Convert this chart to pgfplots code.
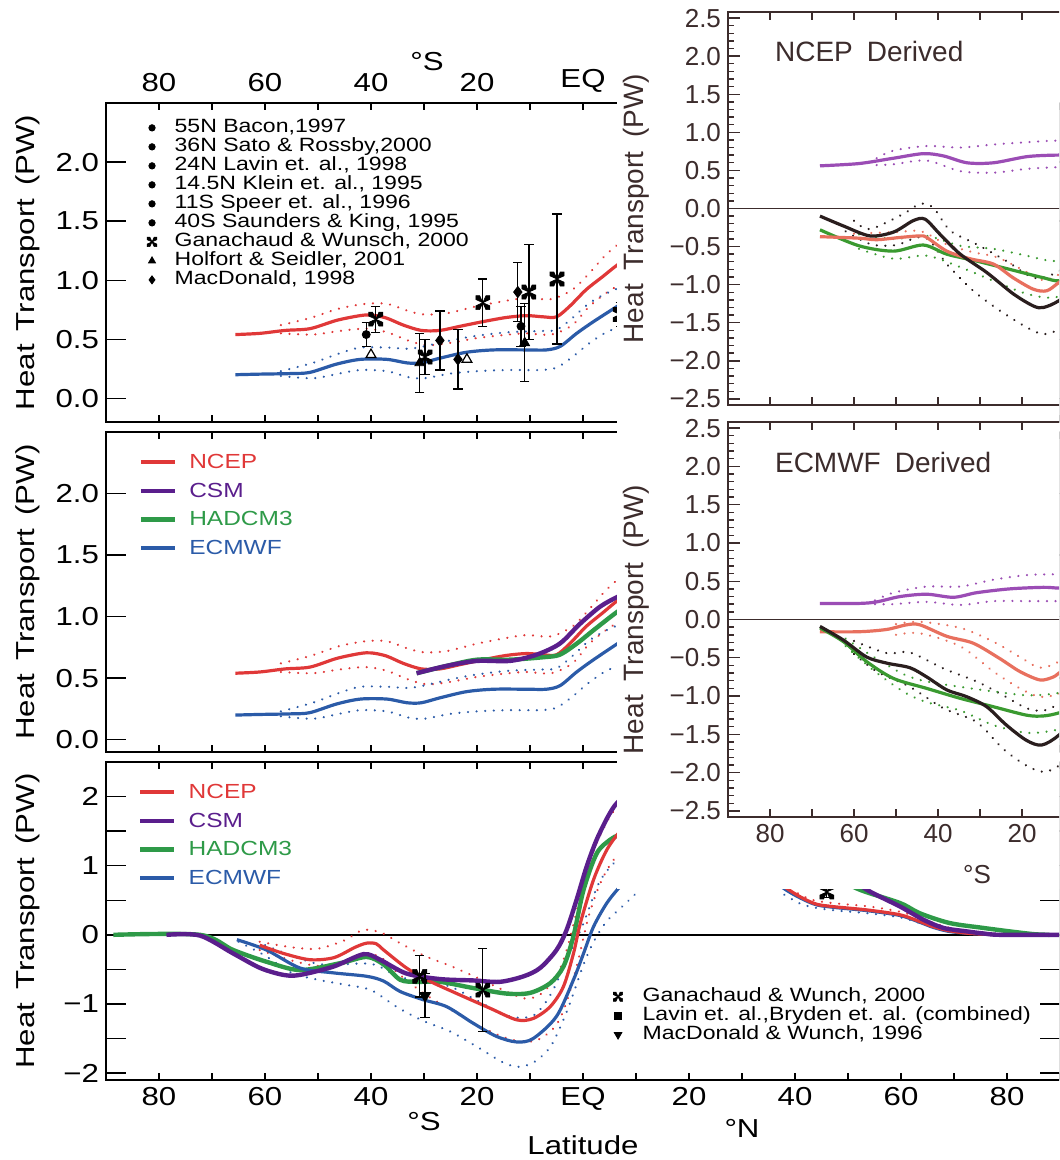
\documentclass[border=0pt]{standalone}
\usepackage{fontspec}
\setmainfont{Liberation Sans}
\newfontfamily\widefont{Liberation Sans}[FakeStretch=1.2]
\usepackage{pgfplots}
\pgfplotsset{compat=1.18}

\definecolor{ncep}{HTML}{E03838}
\definecolor{csm}{HTML}{5A1E8C}
\definecolor{had}{HTML}{2E9A48}
\definecolor{ecm}{HTML}{2B5BA8}
\definecolor{rpurple}{HTML}{9B4DB5}
\definecolor{rsalmon}{HTML}{E8705E}
\definecolor{rblack}{HTML}{2A1E1E}
\definecolor{rgreen}{HTML}{3A9A30}
\definecolor{rbrown}{HTML}{3C2C2C}

\pgfdeclareplotmark{gx}{%
  \pgfpathmoveto{\pgfpoint{0pt}{0pt}}%
  \pgfpathlineto{\pgfpoint{\pgfplotmarksize}{0.45\pgfplotmarksize}}%
  \pgfpathlineto{\pgfpoint{\pgfplotmarksize}{\pgfplotmarksize}}%
  \pgfpathlineto{\pgfpoint{0.45\pgfplotmarksize}{\pgfplotmarksize}}%
  \pgfpathclose
  \pgfpathmoveto{\pgfpoint{0pt}{0pt}}%
  \pgfpathlineto{\pgfpoint{-0.45\pgfplotmarksize}{\pgfplotmarksize}}%
  \pgfpathlineto{\pgfpoint{-\pgfplotmarksize}{\pgfplotmarksize}}%
  \pgfpathlineto{\pgfpoint{-\pgfplotmarksize}{0.45\pgfplotmarksize}}%
  \pgfpathclose
  \pgfpathmoveto{\pgfpoint{0pt}{0pt}}%
  \pgfpathlineto{\pgfpoint{-\pgfplotmarksize}{-0.45\pgfplotmarksize}}%
  \pgfpathlineto{\pgfpoint{-\pgfplotmarksize}{-\pgfplotmarksize}}%
  \pgfpathlineto{\pgfpoint{-0.45\pgfplotmarksize}{-\pgfplotmarksize}}%
  \pgfpathclose
  \pgfpathmoveto{\pgfpoint{0pt}{0pt}}%
  \pgfpathlineto{\pgfpoint{0.45\pgfplotmarksize}{-\pgfplotmarksize}}%
  \pgfpathlineto{\pgfpoint{\pgfplotmarksize}{-\pgfplotmarksize}}%
  \pgfpathlineto{\pgfpoint{\pgfplotmarksize}{-0.45\pgfplotmarksize}}%
  \pgfpathclose
  \pgfusepathqfillstroke}

\pgfplotsset{
  base/.style={scale only axis, anchor=south west, xmin=-90, xmax=90,
    axis line style={line width=0.8pt},
    tick style={line width=0.7pt, black},
    major tick length=10pt,
    xtick style={/pgfplots/major tick length=3.5pt},
    xtick={-90,-80,...,90},
    tick label style={font=\widefont\fontsize{13}{15}\selectfont},
    ylabel style={font=\widefont\fontsize{13}{15}\selectfont},
    legend cell align=left},
  sol/.style={line width=1.6pt, smooth, tension=0.5},
  dot/.style={line width=1.2pt, dash pattern=on 0.01pt off 4.3pt, line cap=round, smooth, tension=0.5},
  errb/.style={black, only marks,
    error bars/y dir=both, error bars/y explicit,
    error bars/error bar style={line width=0.6pt, black},
    error bars/error mark options={rotate=90, mark size=2.3pt, line width=0.6pt, black}},
  rax/.style={scale only axis, anchor=south west, xmin=-90, xmax=0, width=189pt,
    ymin=-2.58, ymax=2.58,
    axis line style={line width=0.8pt, draw=rbrown},
    tick style={line width=0.7pt, rbrown},
    major tick length=6pt, minor tick length=3pt,
    xtick style={/pgfplots/major tick length=4pt},
    xtick={-90,-80,...,0},
    ytick={-2.5,-2,...,2.5}, minor y tick num=4,
    yticklabels={−2.5,−2.0,−1.5,−1.0,−0.5,0.0,0.5,1.0,1.5,2.0,2.5},
    tick label style={font=\fontsize{13}{15}\selectfont, text=rbrown},
    ylabel={Heat\enspace Transport\enspace (PW)},
    ylabel style={font=\fontsize{14}{16}\selectfont, text=rbrown, at={(axis description cs:-0.242,0.5)}, anchor=center}},
  modleg/.style={legend style={at={(axis description cs:#1,0.955)}, anchor=north west, draw=none, fill=none,
    font=\widefont\fontsize{10.2}{11}\selectfont, nodes={inner sep=0pt, text height=9pt, text depth=2.5pt},
    row sep=2.8pt, column sep=6pt}},
}

\begin{document}
\begin{tikzpicture}
\useasboundingbox (0,0) rectangle (529.5pt,580pt);
\clip (0,0) rectangle (529.5pt,580pt);

% ---------------- Panel A ----------------
\begin{axis}[base, at={(53pt,369pt)}, width=477pt, height=159.5pt,
  ymin=-0.2, ymax=2.5,
  xticklabels={,80,,60,,40,,20,,EQ,,,,,,,,,}, xticklabel pos=right,
  xticklabel style={yshift=2pt},
  ytick={0,0.5,1,1.5,2}, yticklabels={0.0,0.5,1.0,1.5,2.0},
  ylabel={Heat\enspace Transport\enspace (PW)},
  ylabel style={at={(axis description cs:-0.082,0.5)}, anchor=center},
  legend image code/.code={\path (0cm,0cm) (0.5cm,0cm); \draw[#1] plot coordinates {(0.25cm,0cm)};},
  legend style={at={(axis description cs:0.0262,0.964)}, anchor=north west, draw=none, fill=none,
    font=\widefont\fontsize{9.6}{10}\selectfont, nodes={inner sep=0pt, text height=7pt, text depth=2pt},
    row sep=0.5pt, column sep=4pt}]
\addlegendimage{only marks, mark=*, mark size=1.6pt, black}
\addlegendentry{55N Bacon,1997}
\addlegendimage{only marks, mark=*, mark size=1.6pt, black}
\addlegendentry{36N Sato \& Rossby,2000}
\addlegendimage{only marks, mark=*, mark size=1.6pt, black}
\addlegendentry{24N Lavin et. al., 1998}
\addlegendimage{only marks, mark=*, mark size=1.6pt, black}
\addlegendentry{14.5N Klein et. al., 1995}
\addlegendimage{only marks, mark=*, mark size=1.6pt, black}
\addlegendentry{11S Speer et. al., 1996}
\addlegendimage{only marks, mark=*, mark size=1.6pt, black}
\addlegendentry{40S Saunders \& King, 1995}
\addlegendimage{only marks, mark=gx, mark size=2.4pt, black, mark options={fill=black, line width=0.3pt}}
\addlegendentry{Ganachaud \& Wunsch, 2000}
\addlegendimage{only marks, mark=triangle*, mark size=2pt, black}
\addlegendentry{Holfort \& Seidler, 2001}
\addlegendimage{only marks, mark=diamond*, mark size=2pt, black}
\addlegendentry{MacDonald, 1998}

\addplot[dot, ncep, forget plot] coordinates {(-57,0.62) (-51.5,0.68) (-46,0.76) (-41,0.80) (-37,0.80) (-33,0.74) (-30,0.71) (-25.7,0.72) (-20,0.78) (-14,0.83) (-10.6,0.85) (-6,0.84) (-2,0.92) (1,1.05) (4,1.2) (6.5,1.3) (9,1.38)};
\addplot[dot, ncep, forget plot] coordinates {(-57,0.55) (-51,0.54) (-46,0.57) (-41,0.59) (-37,0.56) (-33,0.49) (-29.5,0.45) (-25,0.47) (-20,0.51) (-14,0.54) (-10.6,0.55) (-6,0.54) (-2,0.62) (1,0.77) (4,0.88) (6.5,0.95) (9,1.0)};
\addplot[dot, ecm, forget plot] coordinates {(-57,0.23) (-51,0.30) (-46,0.38) (-42,0.43) (-37,0.43) (-33,0.42) (-30,0.44) (-25,0.49) (-20,0.53) (-14,0.56) (-8,0.57) (-5,0.58) (-2,0.68) (1,0.80) (4,0.88) (6.5,0.93) (9,1.0)};
\addplot[dot, ecm, forget plot] coordinates {(-57,0.19) (-51,0.17) (-46,0.21) (-42,0.24) (-37,0.23) (-33,0.18) (-30,0.17) (-25,0.21) (-20,0.23) (-14,0.24) (-8,0.24) (-5,0.26) (-2,0.35) (1,0.46) (4,0.55) (6.5,0.6) (9,0.65)};
\addplot[sol, ncep, forget plot] coordinates {(-65.6,0.54) (-61,0.55) (-56.2,0.575) (-51.5,0.59) (-46.5,0.66) (-42.1,0.70) (-39.9,0.705) (-37.1,0.68) (-33.9,0.62) (-30.5,0.575) (-27,0.575) (-23.2,0.61) (-18.8,0.65) (-14.4,0.685) (-10.6,0.70) (-7.5,0.69) (-5,0.69) (-2.5,0.78) (0.6,0.92) (3.7,1.03) (6.5,1.13) (9,1.2)};
\addplot[sol, ecm, forget plot] coordinates {(-65.6,0.20) (-61,0.205) (-55,0.21) (-51.5,0.22) (-46.5,0.29) (-42,0.33) (-37,0.33) (-33.2,0.30) (-30.5,0.30) (-27,0.34) (-22,0.39) (-16.9,0.41) (-10.6,0.41) (-6.9,0.41) (-4.3,0.44) (-1.2,0.55) (2,0.65) (6.5,0.78) (9,0.85)};
% observations
\addplot[errb, mark=*, mark size=2pt, forget plot] coordinates {(-40.9,0.54) +- (0,0.10) (-11.7,0.61) +- (0,0.17)};
\addplot[errb, mark=diamond*, mark size=2.8pt, forget plot] coordinates {(-27,0.49) +- (0,0.25) (-23.6,0.33) +- (0,0.25) (-12.3,0.90) +- (0,0.25)};
\addplot[errb, mark=gx, mark size=3.5pt, mark options={fill=black, line width=0.3pt}, forget plot] coordinates {(-39.1,0.67) +- (0,0.11) (-29.8,0.35) +- (0,0.15) (-18.9,0.81) +- (0,0.20) (-10.2,0.90) +- (0,0.40) (-4.9,1.01) +- (0,0.55) (7,0.71) +- (0,0.10)};
\addplot[errb, mark=triangle*, mark size=2.8pt, forget plot] coordinates {(-30.8,0.30) +- (0,0.25) (-11,0.47) +- (0,0.33)};
\addplot[black, only marks, mark=triangle, mark size=2.8pt, mark options={line width=0.6pt}, forget plot] coordinates {(-40,0.37) (-21.9,0.33)};
\end{axis}

% ---------------- Panel B ----------------
\begin{axis}[base, at={(53pt,204pt)}, width=477pt, height=160pt,
  ymin=-0.1, ymax=2.5, xticklabels={},
  ytick={0,0.5,1,1.5,2}, yticklabels={0.0,0.5,1.0,1.5,2.0},
  ylabel={Heat\enspace Transport\enspace (PW)},
  ylabel style={at={(axis description cs:-0.082,0.5)}, anchor=center},
  modleg=0.0276]
\addlegendimage{ncep, line width=2.2pt}\addlegendentry{\textcolor{ncep}{NCEP}}
\addlegendimage{csm, line width=2.2pt}\addlegendentry{\textcolor{csm}{CSM}}
\addlegendimage{had, line width=2.2pt}\addlegendentry{\textcolor{had}{HADCM3}}
\addlegendimage{ecm, line width=2.2pt}\addlegendentry{\textcolor{ecm}{ECMWF}}
\addplot[dot, ncep, forget plot] coordinates {(-57,0.62) (-51.5,0.68) (-46,0.76) (-41,0.80) (-37,0.80) (-33,0.74) (-30,0.71) (-25.7,0.72) (-20,0.78) (-14,0.83) (-10.6,0.85) (-6,0.84) (-2,0.92) (1,1.05) (4,1.2) (6.5,1.3) (9,1.38)};
\addplot[dot, ncep, forget plot] coordinates {(-57,0.55) (-51,0.54) (-46,0.57) (-41,0.59) (-37,0.56) (-33,0.49) (-29.5,0.45) (-25,0.47) (-20,0.51) (-14,0.54) (-10.6,0.55) (-6,0.54) (-2,0.62) (1,0.77) (4,0.88) (6.5,0.95) (9,1.0)};
\addplot[dot, ecm, forget plot] coordinates {(-57,0.23) (-51,0.30) (-46,0.38) (-42,0.43) (-37,0.43) (-33,0.42) (-30,0.44) (-25,0.49) (-20,0.53) (-14,0.56) (-8,0.57) (-5,0.58) (-2,0.68) (1,0.80) (4,0.88) (6.5,0.93) (9,1.0)};
\addplot[dot, ecm, forget plot] coordinates {(-57,0.19) (-51,0.17) (-46,0.21) (-42,0.24) (-37,0.23) (-33,0.18) (-30,0.17) (-25,0.21) (-20,0.23) (-14,0.24) (-8,0.24) (-5,0.26) (-2,0.35) (1,0.46) (4,0.55) (6.5,0.6) (9,0.65)};
\addplot[sol, ncep, forget plot] coordinates {(-65.6,0.54) (-61,0.55) (-56.2,0.575) (-51.5,0.59) (-46.5,0.66) (-42.1,0.70) (-39.9,0.705) (-37.1,0.68) (-33.9,0.62) (-30.5,0.575) (-27,0.575) (-23.2,0.61) (-18.8,0.65) (-14.4,0.685) (-10.6,0.70) (-7.5,0.69) (-5,0.69) (-2.5,0.78) (0.6,0.92) (3.7,1.03) (6.5,1.13) (9,1.2)};
\addplot[sol, ecm, forget plot] coordinates {(-65.6,0.20) (-61,0.205) (-55,0.21) (-51.5,0.22) (-46.5,0.29) (-42,0.33) (-37,0.33) (-33.2,0.30) (-30.5,0.30) (-27,0.34) (-22,0.39) (-16.9,0.41) (-10.6,0.41) (-6.9,0.41) (-4.3,0.44) (-1.2,0.55) (2,0.65) (6.5,0.78) (9,0.85)};
\addplot[sol, had, line width=2.2pt, forget plot] coordinates {(-31.4,0.54) (-25.7,0.60) (-20,0.65) (-13.8,0.65) (-7.5,0.67) (-4.4,0.69) (-1.2,0.78) (2,0.89) (6.5,1.04) (9,1.1)};
\addplot[sol, csm, line width=2.2pt, forget plot] coordinates {(-31.4,0.54) (-25.7,0.60) (-20,0.64) (-13.8,0.64) (-8.8,0.69) (-4.4,0.78) (-0.6,0.94) (3.2,1.08) (6.5,1.16) (9,1.2)};
\end{axis}

% ---------------- Panel C ----------------
\begin{axis}[base, at={(53pt,40pt)}, width=477pt, height=159pt,
  ymin=-2.1, ymax=2.5,
  xticklabels={,80,,60,,40,,20,,EQ,,20,,40,,60,,80,},
  ytick={-2,-1.5,-1,-0.5,0,0.5,1,1.5,2}, yticklabels={−2,,−1,,0,,1,,2},
  ylabel={Heat\enspace Transport\enspace (PW)},
  ylabel style={at={(axis description cs:-0.082,0.5)}, anchor=center},
  modleg=0.027]
\addlegendimage{ncep, line width=2.2pt}\addlegendentry{\textcolor{ncep}{NCEP}}
\addlegendimage{csm, line width=2.2pt}\addlegendentry{\textcolor{csm}{CSM}}
\addlegendimage{had, line width=2.2pt}\addlegendentry{\textcolor{had}{HADCM3}}
\addlegendimage{ecm, line width=2.2pt}\addlegendentry{\textcolor{ecm}{ECMWF}}
\addplot[black, line width=0.7pt, forget plot] coordinates {(-90,0) (90,0)};
\addplot[dot, ncep, forget plot] coordinates {(-61,-0.10) (-55,-0.18) (-50,-0.20) (-45,-0.08) (-41.5,0.07) (-38,0.03) (-35,-0.10) (-30,-0.30) (-25,-0.45) (-20,-0.62) (-15,-0.80) (-11,-0.92) (-8,-0.86) (-5,-0.60) (-3,-0.2) (-1,0.4) (1,1.0) (3,1.4) (5,1.7) (7,1.9) (10,2.1)};
\addplot[dot, ncep, forget plot] coordinates {(-61,-0.22) (-55,-0.37) (-50,-0.45) (-45,-0.42) (-41,-0.28) (-38,-0.33) (-35,-0.55) (-30,-0.85) (-25,-1.08) (-20,-1.30) (-15,-1.48) (-11,-1.55) (-8,-1.5) (-5,-1.3) (-3,-0.95) (-1,-0.4) (1,0.25) (3,0.7) (5,1.0) (7,1.2) (10,1.45)};
\addplot[dot, ecm, forget plot] coordinates {(-65,-0.1) (-60,-0.3) (-55,-0.55) (-50,-0.65) (-45,-0.72) (-40,-0.80) (-35,-1.05) (-30,-1.25) (-25,-1.40) (-20,-1.62) (-15,-1.85) (-12,-1.91) (-9,-1.83) (-6,-1.6) (-3,-1.1) (0,-0.45) (2,-0.1) (4.5,0.2) (7,0.38) (10,0.6)};
\addplot[dot, ecm, forget plot] coordinates {(-60,-0.15) (-50,-0.42) (-40,-0.42) (-35,-0.6) (-30,-0.68) (-25,-0.75) (-20,-0.95) (-15,-1.15) (-12,-1.2) (-9,-1.15) (-6,-0.85) (-3,-0.35) (0,0.15) (3,0.75) (6,1.05) (9,1.2)};
\addplot[dot, ncep, forget plot] coordinates {(36,0.74) (40,0.62) (43,0.51) (47,0.46) (54,0.41) (60,0.33) (64,0.23) (67,0.15) (70,0.08)};
\addplot[dot, ecm, forget plot] coordinates {(38,0.58) (41,0.45) (44,0.39) (48,0.35) (54,0.31) (60,0.25) (64,0.16) (67,0.10) (70,0.05)};
\addplot[sol, had, line width=2.2pt, forget plot] coordinates {(-88.6,0) (-72.3,0) (-66,-0.22) (-59.7,-0.39) (-53.4,-0.51) (-45.8,-0.41) (-40.8,-0.32) (-37.6,-0.43) (-34.5,-0.65) (-31.4,-0.68) (-27,-0.68) (-20.7,-0.77) (-14.4,-0.85) (-10,-0.84) (-6.2,-0.70) (-3.7,-0.46) (-1.8,-0.02) (0.1,0.65) (2.6,1.18) (5.2,1.38) (7,1.45) (12,1.6) (25,1.5) (40,1.1) (47,0.85) (52.3,0.65) (59.8,0.46) (63.6,0.31) (69.2,0.17) (75.5,0.10) (80.5,0.05) (85,0.01) (88,0)};
\addplot[sol, ecm, forget plot] coordinates {(-65.3,-0.07) (-59.7,-0.22) (-53.4,-0.48) (-47.1,-0.55) (-40.8,-0.60) (-37.6,-0.67) (-34.5,-0.82) (-30.1,-0.94) (-25.7,-1.04) (-20.7,-1.28) (-16.3,-1.47) (-12.5,-1.55) (-9.4,-1.50) (-5,-1.18) (-1.8,-0.65) (0.1,-0.27) (2,0.12) (4.5,0.46) (7,0.70) (10,0.95) (16,1.3) (24,1.3) (32,1.0) (38.5,0.64) (43.4,0.45) (47,0.40) (53.6,0.35) (59.8,0.28) (63.6,0.18) (66,0.11) (69,0.05) (73,0.02) (79,0)};
\addplot[sol, ncep, forget plot] coordinates {(-61,-0.15) (-56.5,-0.27) (-51.5,-0.36) (-47,-0.33) (-43,-0.18) (-40.8,-0.12) (-39,-0.13) (-37.6,-0.22) (-33.3,-0.48) (-29.5,-0.65) (-23.8,-0.85) (-17.6,-1.06) (-12.5,-1.23) (-9.4,-1.21) (-6.2,-1.04) (-3.7,-0.75) (-1.8,-0.27) (-0.5,0.17) (2,0.80) (4.5,1.23) (7,1.5) (10,1.75) (16,1.9) (24,1.6) (32,1.1) (38.5,0.67) (43.4,0.46) (47,0.41) (53.6,0.36) (59.8,0.29) (63.6,0.19) (66,0.12) (69,0.06) (73,0.02) (79,0)};
\addplot[sol, csm, line width=2.2pt, forget plot] coordinates {(-78.6,0) (-72.3,-0.01) (-66,-0.27) (-60.9,-0.48) (-56.5,-0.58) (-53.4,-0.58) (-47.1,-0.46) (-41.4,-0.28) (-38.3,-0.36) (-33.3,-0.56) (-27,-0.64) (-20.7,-0.66) (-15.7,-0.68) (-11.2,-0.60) (-8.1,-0.48) (-5,-0.22) (-3.1,0.07) (-1.2,0.51) (0.7,0.99) (2.6,1.38) (5,1.75) (7,1.95) (12,2.2) (25,1.9) (40,1.3) (48,0.95) (53.6,0.65) (59.8,0.41) (64.2,0.22) (68,0.10) (72.4,0.05) (75.5,0.02) (78.7,0) (90,0)};
\addplot[errb, mark=gx, mark size=3.5pt, mark options={fill=black, line width=0.3pt}, forget plot] coordinates {(-30.8,-0.60) +- (0,0.30) (-18.9,-0.80) +- (0,0.60) (46,0.62) +- (0,0.08)};
\addplot[errb, mark=triangle*, mark size=3.2pt, mark options={rotate=180}, forget plot] coordinates {(-29.8,-0.88) +- (0,0.32)};
\end{axis}

% second legend of panel C
\begin{axis}[scale only axis, anchor=south west, at={(53pt,40pt)}, width=477pt, height=159pt,
  xmin=-90, xmax=90, ymin=-2.1, ymax=2.5, hide axis, legend cell align=left,
  legend image code/.code={\path (0cm,0cm) (0.5cm,0cm); \draw[#1] plot coordinates {(0.25cm,0cm)};},
  legend style={at={(axis description cs:0.5147,0.304)}, anchor=north west, draw=none, fill=none,
    font=\widefont\fontsize{9.6}{10}\selectfont, nodes={inner sep=0pt, text height=7pt, text depth=2pt},
    row sep=0.5pt, column sep=5pt}]
\addlegendimage{only marks, mark=gx, mark size=2.3pt, black, mark options={fill=black, line width=0.3pt}}
\addlegendentry{Ganachaud \& Wunch, 2000}
\addlegendimage{only marks, mark=square*, mark size=1.9pt, black}
\addlegendentry{Lavin et. al.,Bryden et. al. (combined)}
\addlegendimage{only marks, mark=triangle*, mark size=2.2pt, black, mark options={rotate=180}}
\addlegendentry{MacDonald \& Wunch, 1996}
\end{axis}

% white backing of the right-hand figure
\fill[white] (308.5pt,135.5pt) rectangle (540pt,590pt);

% ---------------- Panel R1 ----------------
\begin{axis}[rax, at={(364pt,377.5pt)}, height=196.5pt, xticklabels={}]
\addplot[rbrown, line width=0.7pt] coordinates {(-90,0) (0,0)};
\addplot[dot, rpurple] coordinates {(-54.6,0.66) (-50.6,0.76) (-42.7,0.82) (-34.7,0.80) (-26.8,0.84) (-18.9,0.87) (-12.5,0.89) (-6,0.89)};
\addplot[dot, rpurple] coordinates {(-54.6,0.57) (-50.6,0.58) (-42.7,0.63) (-34.7,0.49) (-26.8,0.47) (-18.9,0.52) (-12.5,0.54) (-6,0.55)};
\addplot[dot, rblack] coordinates {(-60,-0.16) (-56.2,-0.27) (-48.2,-0.07) (-44.3,0.06) (-41.1,0.01) (-37.1,-0.29) (-30.8,-0.47) (-23.7,-0.69) (-17.3,-0.91) (-12.5,-0.86) (-6,-0.65)};
\addplot[dot, rblack] coordinates {(-62,-0.30) (-56,-0.47) (-50,-0.48) (-45,-0.38) (-42,-0.42) (-37.9,-0.73) (-31.6,-1.08) (-25.3,-1.34) (-18.9,-1.56) (-14.9,-1.65) (-11.2,-1.58) (-6,-1.3)};
\addplot[dot, rgreen] coordinates {(-58.8,-0.34) (-50.6,-0.40) (-42.7,-0.36) (-34.7,-0.49) (-26.8,-0.53) (-18.9,-0.62) (-12.5,-0.69) (-6,-0.62)};
\addplot[dot, rgreen] coordinates {(-58.8,-0.53) (-50.6,-0.66) (-42.7,-0.62) (-34.7,-0.77) (-26.8,-0.95) (-18.9,-1.12) (-12.5,-1.17) (-6,-1.05)};
\addplot[dot, rsalmon] coordinates {(-60,-0.33) (-50,-0.31) (-44,-0.30) (-38,-0.47) (-32,-0.57) (-26,-0.64) (-20,-0.80) (-15,-0.94) (-11,-0.86) (-6,-0.7)};
\addplot[sol, rpurple] coordinates {(-68.1,0.56) (-58.8,0.59) (-50.6,0.66) (-43.5,0.72) (-38.7,0.69) (-33.1,0.60) (-26.8,0.60) (-18.9,0.68) (-12.5,0.70) (-6,0.70)};
\addplot[sol, rgreen] coordinates {(-68.1,-0.28) (-58.8,-0.49) (-50.6,-0.56) (-43.5,-0.48) (-37.9,-0.60) (-30.8,-0.69) (-22.9,-0.80) (-14.9,-0.91) (-11.2,-0.95) (-6,-0.88)};
\addplot[sol, rsalmon] coordinates {(-68.1,-0.37) (-58.8,-0.39) (-54.6,-0.41) (-49,-0.38) (-44.3,-0.36) (-42.7,-0.38) (-37.9,-0.56) (-32.4,-0.66) (-26.8,-0.73) (-22.1,-0.91) (-17.3,-1.06) (-14.1,-1.08) (-11.2,-0.97) (-6,-0.75)};
\addplot[sol, rblack] coordinates {(-68.1,-0.10) (-62.5,-0.23) (-56.2,-0.36) (-50.6,-0.31) (-45.9,-0.16) (-43.1,-0.14) (-39.5,-0.34) (-34.7,-0.60) (-28.4,-0.84) (-22.1,-1.12) (-17.3,-1.28) (-14.9,-1.30) (-11.2,-1.21) (-6,-0.98)};
\end{axis}

% ---------------- Panel R2 ----------------
\begin{axis}[rax, at={(364pt,171.5pt)}, height=197.5pt, xticklabels={,80,,60,,40,,20,,}]
\addplot[rbrown, line width=0.7pt] coordinates {(-90,0) (0,0)};
\addplot[dot, rpurple] coordinates {(-55,0.25) (-50.6,0.35) (-42.7,0.43) (-34.7,0.43) (-26.8,0.52) (-18.9,0.58) (-12.5,0.59) (-6,0.59)};
\addplot[dot, rpurple] coordinates {(-55,0.20) (-50.6,0.20) (-42.7,0.23) (-34.7,0.19) (-26.8,0.24) (-18.9,0.24) (-12.5,0.24) (-6,0.24)};
\addplot[dot, rsalmon] coordinates {(-50,-0.06) (-44.3,-0.03) (-34.7,-0.11) (-26.8,-0.29) (-20.5,-0.49) (-15.7,-0.63) (-11.2,-0.55) (-6,-0.38)};
\addplot[dot, rsalmon] coordinates {(-50,-0.20) (-44.3,-0.18) (-34.7,-0.35) (-26.8,-0.68) (-20.5,-0.90) (-15.7,-1.01) (-11.2,-0.97) (-6,-0.82)};
\addplot[dot, rblack] coordinates {(-60,-0.28) (-52.2,-0.44) (-46.7,-0.43) (-38.7,-0.64) (-30.8,-0.81) (-24.5,-0.99) (-18.9,-1.16) (-14.9,-1.19) (-11.2,-1.10) (-6,-0.9)};
\addplot[dot, rblack] coordinates {(-60,-0.45) (-54.6,-0.68) (-46.7,-0.88) (-38.7,-1.16) (-30.8,-1.34) (-24.5,-1.69) (-18.9,-1.91) (-14.9,-1.99) (-11.2,-1.91) (-6,-1.65)};
\addplot[dot, rgreen] coordinates {(-62,-0.25) (-55,-0.50) (-48,-0.72) (-42.7,-0.81) (-34.7,-0.88) (-26.8,-0.94) (-18.9,-0.99) (-12.5,-0.97) (-6,-0.9)};
\addplot[dot, rgreen] coordinates {(-62,-0.35) (-55,-0.68) (-48,-0.95) (-42.7,-1.08) (-34.7,-1.19) (-26.8,-1.38) (-18.9,-1.48) (-12.5,-1.45) (-6,-1.35)};
\addplot[sol, rpurple] coordinates {(-68.1,0.21) (-58.8,0.21) (-54.6,0.23) (-49,0.30) (-42.7,0.33) (-36.3,0.29) (-30.8,0.35) (-22.9,0.40) (-14.9,0.42) (-11.2,0.41) (-6,0.41)};
\addplot[sol, rsalmon] coordinates {(-68.1,-0.16) (-58.8,-0.16) (-52.2,-0.13) (-47.5,-0.07) (-44.3,-0.07) (-37.9,-0.22) (-31.6,-0.31) (-25.3,-0.51) (-20.5,-0.68) (-15.7,-0.79) (-12.5,-0.75) (-11.2,-0.70) (-6,-0.5)};
\addplot[sol, rgreen] coordinates {(-68.1,-0.11) (-62.5,-0.29) (-57,-0.55) (-50.6,-0.77) (-42.7,-0.90) (-34.7,-1.03) (-26.8,-1.14) (-18.9,-1.25) (-14.9,-1.26) (-11.2,-1.22) (-6,-1.12)};
\addplot[sol, rblack] coordinates {(-68.1,-0.09) (-62.5,-0.27) (-57,-0.49) (-52.2,-0.57) (-46.7,-0.63) (-42.7,-0.75) (-37.9,-0.92) (-33.1,-1.01) (-28.4,-1.14) (-23.7,-1.38) (-18.9,-1.58) (-15.3,-1.64) (-11.2,-1.51) (-6,-1.2)};
\end{axis}

% text labels
\node[font=\widefont\fontsize{13}{15}\selectfont] at (213.5pt,549pt) {°S};
\node[font=\widefont\fontsize{13}{15}\selectfont] at (212pt,19pt) {°S};
\node[font=\widefont\fontsize{13}{15}\selectfont] at (371pt,16pt) {°N};
\node[font=\widefont\fontsize{13}{15}\selectfont] at (291.5pt,7.5pt) {Latitude};
\node[font=\fontsize{13}{15}\selectfont, text=rbrown] at (488.5pt,142.5pt) {°S};
\node[font=\fontsize{14}{16}\selectfont, text=rbrown, anchor=west] at (384pt,554pt) {NCEP\enspace Derived};
\node[font=\fontsize{14}{16}\selectfont, text=rbrown, anchor=west] at (384pt,348.5pt) {ECMWF\enspace Derived};
\end{tikzpicture}
\end{document}
